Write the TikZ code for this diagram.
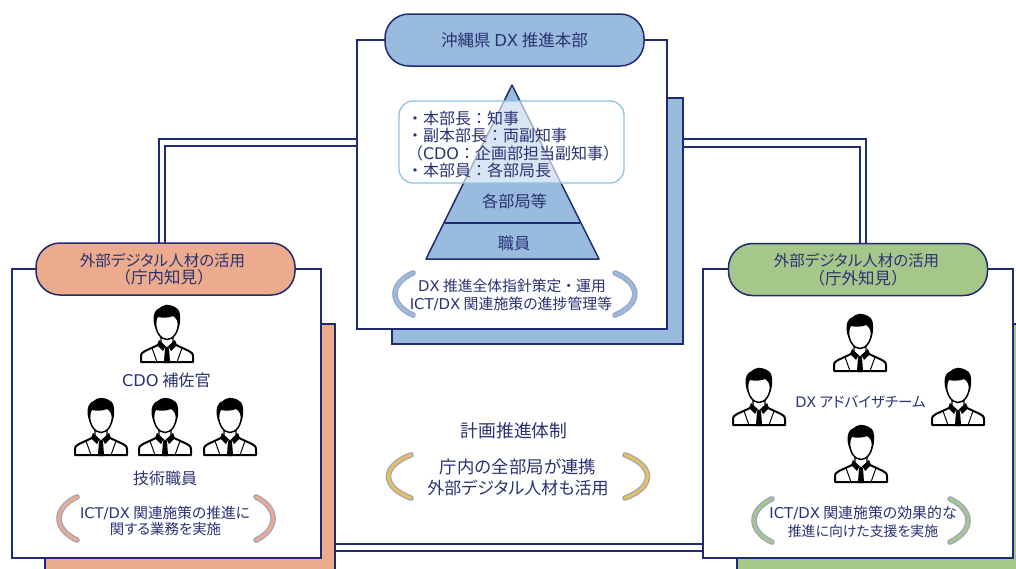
\documentclass[tikz,border=0pt]{standalone}
\usepackage{fontspec}
\usetikzlibrary{backgrounds}
\setmainfont{Noto Sans CJK JP}
\newfontfamily\jf{Noto Sans CJK JP}
\newfontfamily\kf[RawFeature={+palt}]{Noto Sans CJK JP}
\newfontfamily\lf{DejaVu Sans}
\newcommand{\la}[1]{{\lf #1}}
\newcommand{\sz}[1]{\fontsize{#1}{#1}\selectfont}
\definecolor{navy}{HTML}{1F2A72}
\definecolor{txtc}{HTML}{2A3275}
\definecolor{blu}{HTML}{99BBDD}
\definecolor{ora}{HTML}{EBAB8C}
\definecolor{gre}{HTML}{A5C88A}
\definecolor{gol}{HTML}{E5C158}
\definecolor{rolec}{HTML}{8CC3E3}
\tikzset{
  x=1pt,y=-1pt,
  panel/.style={draw=navy,line width=1.5pt,fill=white,minimum width=#1,inner sep=0pt,outer sep=0pt},
  shadowbox/.style={draw=navy,line width=1.5pt,inner sep=0pt,outer sep=0pt},
  pill/.style={draw=navy,line width=1.5pt,rounded corners=24pt,minimum width=259pt,minimum height=52pt,inner sep=0pt,outer sep=0pt,text=txtc,align=center},
  conn/.style={draw=navy,line width=1.2pt},
  lbl/.style={text=txtc,inner sep=0pt,outer sep=0pt,align=center},
  person/.pic={
    \fill[white,draw=black,line width=2pt,line join=round] (-26,57) -- (-26,52) .. controls (-26,48.5) and (-25,47.5) .. (-22,46) -- (-9,40) -- (9,40) -- (22,46) .. controls (25,47.5) and (26,48.5) .. (26,52) -- (26,57) -- cycle;
    \draw[black,line width=1pt] (-15,43) -- (-10,57) (15,43) -- (10,57);
    \fill[white,draw=black,line width=1.2pt] (-6,28) -- (-6,38) -- (0,43) -- (6,38) -- (6,28) -- cycle;
    \fill[black] (-8,35) -- (-1.5,41) -- (-4,46) -- (-10,40) -- cycle;
    \fill[black] (8,35) -- (1.5,41) -- (4,46) -- (10,40) -- cycle;
    \fill[black] (-2,43) -- (2,43) -- (2.8,54) -- (2.8,58) -- (-2.8,58) -- (-2.8,54) -- cycle;
    \fill[white,draw=black,line width=1.5pt] (0,17.5) ellipse [x radius=11.5,y radius=17];
    \fill[black] (-11.5,24) .. controls (-15,14) and (-14,5) .. (-7,3) .. controls (-4,0) and (3,-1) .. (7,1.5) .. controls (13,3) and (15,12) .. (11.5,24) .. controls (11.5,17) and (9.5,13) .. (6,11) .. controls (2,13) and (-5,13) .. (-9,12) .. controls (-11,15) and (-11,19) .. (-11.5,24) -- cycle;
  },
}
% #1 end x, #2 top y, #3 width (signed: + bulges left), #4 height, #5 colour
\newcommand{\brk}[5]{%
  \begin{scope}[shift={(#1,#2)},xscale=#3,yscale=#4]
    \draw[navy,draw opacity=.42,line width=5.6pt,line cap=round]
      (0,.02) .. controls (-1.2,.27) and (-1.2,.73) .. (0,.98);
    \draw[#5,line width=3pt,line cap=round]
      (0,.02) .. controls (-1.2,.27) and (-1.2,.73) .. (0,.98);
  \end{scope}}
\begin{document}
\begin{tikzpicture}
\useasboundingbox (0,0) rectangle (1016,568);
\clip (0,0) rectangle (1016,568);

% shadows
\node[shadowbox,fill=blu,minimum width=291pt,minimum height=246pt] (cshadow) at (537.5,221) {};
\node[shadowbox,fill=ora,minimum width=290pt,minimum height=270pt] (lshadow) at (190,459) {};
\node[shadowbox,fill=gre,minimum width=290pt,minimum height=270pt] (rshadow) at (882,459) {};

% boxes
\node[panel=310pt,minimum height=289pt] (cbox) at (512,184.5) {};
\node[panel=309pt,minimum height=289pt] (lbox) at (166.5,413.5) {};
\node[panel=310pt,minimum height=289pt] (rbox) at (858,413.5) {};

% pills
\node[pill,fill=ora] (lpill) at (165.5,269) {\sz{15.5}\kf\hspace*{-6pt}外部デジタル人材の活用\\[1pt]\sz{16.5}\jf\hspace*{-3pt}（庁内知見）};
\node[pill,fill=gre] (rpill) at (858,269.5) {\sz{15.5}\kf\hspace*{-3pt}外部デジタル人材の活用\\[1pt]\sz{16.5}\jf （庁外知見）};
\node[pill,fill=blu] (cpill) at (514.5,40) {\sz{16.5}\jf 沖縄県 \la{DX} 推進本部};

% connectors
\begin{scope}[on background layer]
\fill[white] (0,0) rectangle (1016,568);
\draw[conn] ([yshift=45.5pt]cbox.west) -| ([xshift=-6.5pt]lpill.north);
\draw[conn] ([yshift=38.5pt]cbox.west) -| ([xshift=-.5pt]lpill.north);
\draw[conn] ([yshift=82pt]cshadow.east) -| ([xshift=8pt]rpill.north);
\draw[conn] ([yshift=74pt]cshadow.east) -| ([xshift=2pt]rpill.north);
\draw[conn] ([yshift=-130.5pt]rbox.west) -- ([yshift=-130.5pt]rbox.west -| lshadow.east);
\draw[conn] ([yshift=-137.5pt]rbox.west) -- ([yshift=-137.5pt]rbox.west -| lshadow.east);
\end{scope}

% pyramid
\coordinate (apex) at (512,85);
\coordinate (bl) at (426,259);
\coordinate (br) at (599,259);
\coordinate (ml) at (445,223);
\coordinate (mr) at (580,223);
\draw[fill=blu,draw=navy,line width=1.5pt,line join=round] (apex) -- (br) -- (bl) -- cycle;
\draw[navy,line width=1.5pt] (ml) -- (mr);
\node[lbl] (t1) at (514.5,201.5) {\sz{16.2}\jf 各部局等};
\node[lbl] (t2) at (514,243) {\sz{16.2}\jf 職員};

% overlay box
\node[draw=rolec,line width=1.3pt,fill=white,fill opacity=.62,draw opacity=1,rounded corners=14pt,
      minimum width=225pt,minimum height=82pt,inner sep=0pt,outer sep=0pt] (role) at (511.5,142) {};
\node[lbl,align=left,anchor=west,font={\fontsize{16}{17.4}\selectfont\jf}] (roletxt) at (407,144.5)
  {・本部長：知事\\・副本部長：両副知事\\（\la{CDO}：企画部担当副知事）\\・本部員：各部局長};

% centre caption
\brk{413}{272}{20}{44}{blu}
\brk{615}{272}{-22}{44}{blu}
\node[lbl] (c1) at (512,286) {\sz{14.8}\jf \la{DX} 推進全体指針策定・運用};
\node[lbl] (c2) at (511,304) {\sz{14.9}\kf \la{ICT/DX} 関連施策の進捗管理等};

% left
\pic at (167,305) {person};
\node[lbl] (l1) at (166.5,380) {\sz{16.2}\jf \la{CDO} 補佐官};
\pic at (101,398) {person};
\pic at (165,398) {person};
\pic at (230,398) {person};
\node[lbl] (l2) at (165,478) {\sz{16}\jf 技術職員};
\brk{77}{496}{20}{45}{ora}
\brk{256}{496}{-19}{45}{ora}
\node[lbl] (l3) at (165,513) {\sz{14.7}\kf \la{ICT/DX} 関連施策の推進に};
\node[lbl] (l4) at (165.5,529.5) {\sz{14.4}\kf 関する業務を実施};

% right
\pic at (860,314) {person};
\pic at (759,368) {person};
\pic at (958,368) {person};
\pic at (861,425) {person};
\node[lbl] (r1) at (860.5,402) {\sz{14.5}\kf \la{DX} アドバイザチーム};
\brk{772}{498}{20}{45}{gre}
\brk{950}{498}{-20}{45}{gre}
\node[lbl] (r2) at (863,513) {\sz{14.9}\kf \la{ICT/DX} 関連施策の効果的な};
\node[lbl] (r3) at (863,531) {\sz{13.9}\kf 推進に向けた支援を実施};

% middle
\node[lbl] (m1) at (514,431) {\sz{17.8}\jf 計画推進体制};
\brk{411}{454}{25}{45}{gol}
\brk{625}{454}{-25}{45}{gol}
\node[lbl] (m2) at (518,467) {\sz{17.4}\jf 庁内の全部局が連携};
\node[lbl] (m3) at (518,488) {\sz{17}\kf 外部デジタル人材も活用};
\end{tikzpicture}
\end{document}
